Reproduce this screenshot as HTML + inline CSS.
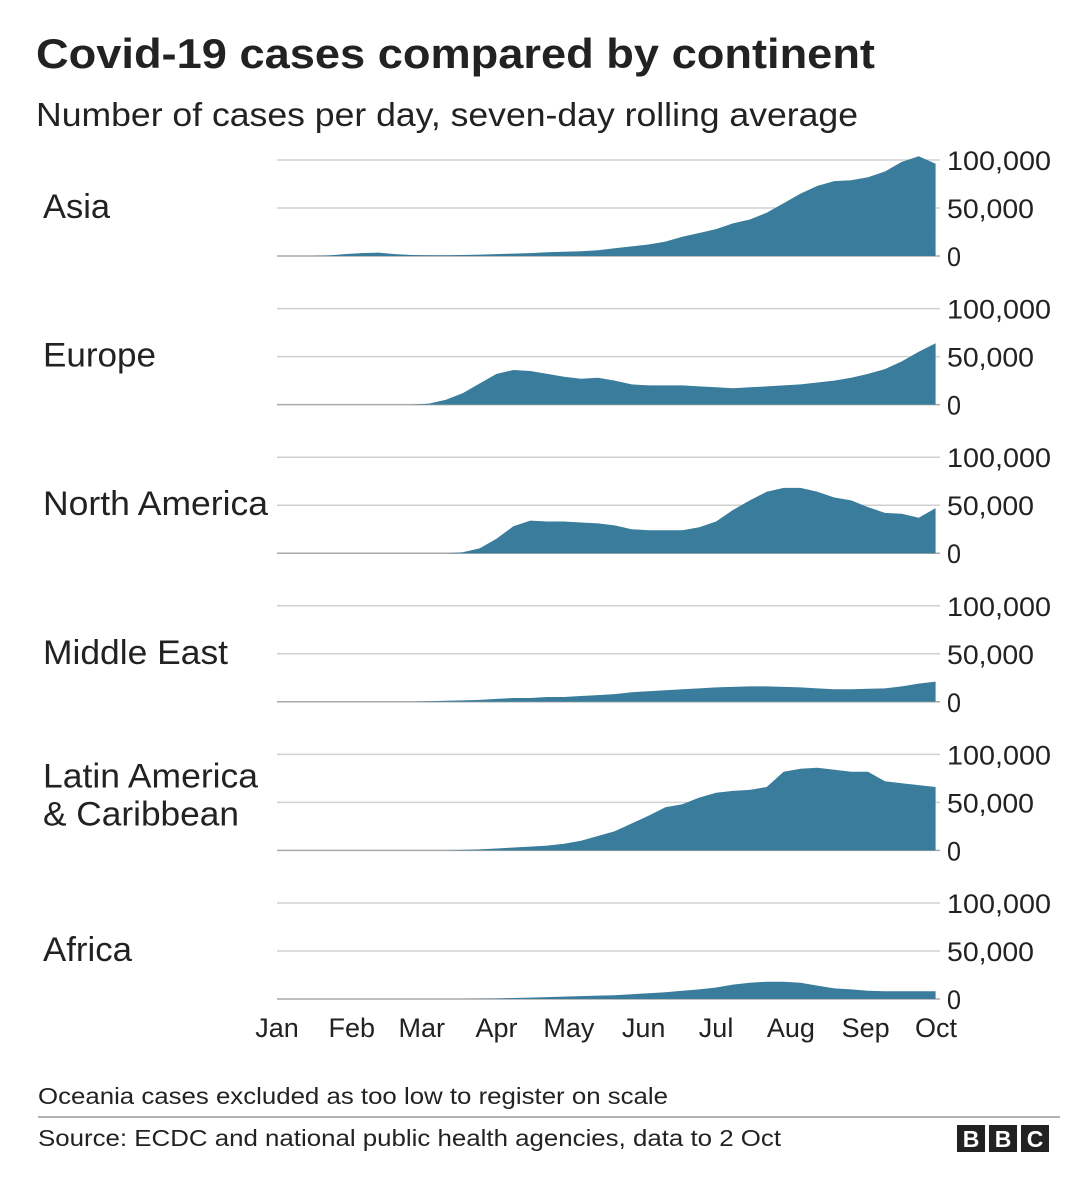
<!DOCTYPE html>
<html><head><meta charset="utf-8"><style>
body{margin:0;background:#fff;width:1080px;height:1194px;overflow:hidden;font-family:"Liberation Sans",sans-serif;}
svg{position:absolute;left:0;top:0}
</style></head><body>
<svg id="c" width="1080" height="1194">
<text x="36" y="68" font-size="42" font-weight="bold" fill="#222" textLength="839" lengthAdjust="spacingAndGlyphs">Covid-19 cases compared by continent</text>
<text x="36" y="126" font-size="33" fill="#222" textLength="822" lengthAdjust="spacingAndGlyphs">Number of cases per day, seven-day rolling average</text>
<text x="38" y="1104" font-size="23" fill="#222" textLength="630" lengthAdjust="spacingAndGlyphs">Oceania cases excluded as too low to register on scale</text>
<line x1="38" y1="1117" x2="1060" y2="1117" stroke="#999" stroke-width="1.5"/>
<text x="38" y="1146" font-size="23" fill="#222" textLength="743" lengthAdjust="spacingAndGlyphs">Source: ECDC and national public health agencies, data to 2 Oct</text>
<g>
<rect x="957" y="1125" width="28" height="27" fill="#222"/><rect x="989" y="1125" width="28" height="27" fill="#222"/><rect x="1021" y="1125" width="28" height="27" fill="#222"/>
<text x="971" y="1147" font-size="23" font-weight="bold" fill="#fff" text-anchor="middle">B</text>
<text x="1003" y="1147" font-size="23" font-weight="bold" fill="#fff" text-anchor="middle">B</text>
<text x="1035" y="1147" font-size="23" font-weight="bold" fill="#fff" text-anchor="middle">C</text>
</g>
</svg>
<script>
const days=[0,7,14,21,28,35,42,49,56,63,70,77,84,91,98,105,112,119,126,133,140,147,154,161,168,175,182,189,196,203,210,217,224,231,238,245,252,259,266,273];
const asia=[0,0,0,0.5,2,3,3.5,2,1,0.8,0.8,1,1.5,2,2.5,3,4,4.5,5,6,8,10,12,15,20,24,28,34,38,45,55,65,73,78,79,82,88,98,104,96];
const europe=[0,0,0,0,0,0,0,0,0,1,5,12,22,32,36,35,32,29,27,28,25,21,20,20,20,19,18,17,18,19,20,21,23,25,28,32,37,45,55,64];
const northAmerica=[0,0,0,0,0,0,0,0,0,0,0,1,5,15,28,34,33,33,32,31,29,25,24,24,24,27,33,45,55,64,68,68,64,58,55,48,42,41,37,47];
const middleEast=[0,0,0,0,0,0,0,0,0,0.5,1,1.5,2,3,4,4,5,5,6,7,8,10,11,12,13,14,15,15.5,16,16,15.5,15,14,13,13,13.5,14,16,19,21];
const latinAmerica=[0,0,0,0,0,0,0,0,0,0,0,0.5,1,2,3,4,5,7,10,15,20,28,36,45,48,55,60,62,63,66,82,85,86,84,82,82,72,70,68,66];
const africa=[0,0,0,0,0,0,0,0,0,0,0,0,0.3,0.5,1,1.5,2,2.5,3,3.5,4,5,6,7,8.5,10,12,15,17,18,18,17,14,11,10,8.5,8,8,8,8];
const panelNames=[["Asia"],["Europe"],["North America"],["Middle East"],["Latin America","& Caribbean"],["Africa"]];
const panelNameWidths=[[67],[113],[225],[185],[215,196],[89]];
const panelSeries=[asia,europe,northAmerica,middleEast,latinAmerica,africa];
const yTicks=[0,50,100];
const yTickLabels=["0","50,000","100,000"];
const yTickWidths=[14,87,104];
const months=["Jan","Feb","Mar","Apr","May","Jun","Jul","Aug","Sep","Oct"];
const monthDays=[0,31,60,91,121,152,182,213,244,274];
const NS="http://www.w3.org/2000/svg",svg=document.getElementById('c');
const x=d=>277+d*(661/274);
function mk(t,a){const e=document.createElementNS(NS,t);for(const k in a)e.setAttribute(k,a[k]);svg.appendChild(e);return e;}
panelSeries.forEach((s,i)=>{
  const base=256+i*148.6;
  const y=v=>base-v*0.96;
  yTicks.forEach((t,j)=>{
    const l=mk('line',{x1:277,x2:940,y1:y(t),y2:y(t),stroke:j==0?'#aaa':'#d0d0d0','stroke-width':1.5});
    
    
    const tx=mk('text',{x:947,y:y(t)+10,'font-size':27,fill:'#222',textLength:yTickWidths[j],lengthAdjust:'spacingAndGlyphs'});tx.textContent=yTickLabels[j];
    
    
  });
  let d='M'+x(days[0])+','+y(0);
  days.forEach((dd,k)=>{d+=' L'+x(dd).toFixed(1)+','+y(s[k]).toFixed(1);});
  d+=' L'+x(days[days.length-1])+','+y(0)+' Z';
  const p=mk('path',{d:d,fill:'#3a7c9b'});
  
  
  const names=panelNames[i];
  names.forEach((n,k)=>{
    const ty=names.length>1?base-63+k*38:base-38;
    const t=mk('text',{x:43,y:ty,'font-size':34,fill:'#222',textLength:panelNameWidths[i][k],lengthAdjust:'spacingAndGlyphs'});t.textContent=n;
    
    
  });
});
months.forEach((m,i)=>{
  const t=mk('text',{x:Math.min(x(monthDays[i]),936),y:1037,'font-size':27,fill:'#222','text-anchor':'middle'});t.textContent=m;
  
  
});
</script>
</body></html>
